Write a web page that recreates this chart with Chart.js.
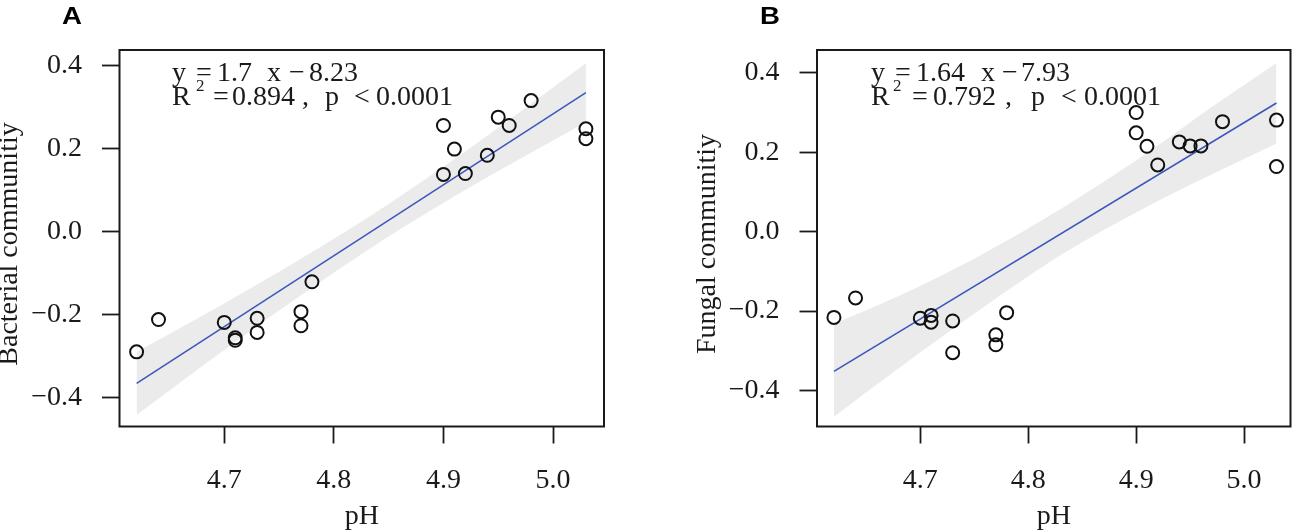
<!DOCTYPE html>
<html>
<head>
<meta charset="utf-8">
<script src="https://cdn.jsdelivr.net/npm/chart.js@4.4.0/dist/chart.umd.min.js"></script>
<style>
  html, body { margin: 0; padding: 0; background: #fff; }
  #wrap { position: relative; width: 1299px; height: 532px; overflow: hidden; }
  canvas { position: absolute; top: 0; }
</style>
</head>
<body>
<div id="wrap">
  <canvas id="chartA" width="650" height="532" style="left:0"></canvas>
  <canvas id="chartB" width="649" height="532" style="left:650px"></canvas>
</div>
<script>
// pH of the 20 samples (same for both panels)
var phValues = [4.62, 4.64, 4.70, 4.71, 4.71, 4.73, 4.73, 4.77, 4.77, 4.78,
                4.90, 4.90, 4.91, 4.92, 4.94, 4.95, 4.96, 4.98, 5.03, 5.03];

// community scores
var bacterial = [-0.290, -0.212, -0.219, -0.256, -0.262, -0.209, -0.243, -0.193, -0.227, -0.121,
                 0.256, 0.138, 0.199, 0.140, 0.184, 0.276, 0.256, 0.316, 0.248, 0.224];
var fungal = [-0.216, -0.167, -0.218, -0.211, -0.228, -0.225, -0.305, -0.260, -0.285, -0.204,
              0.300, 0.249, 0.215, 0.168, 0.226, 0.216, 0.216, 0.277, 0.281, 0.164];

// fitted line ends
var fitX = [4.62, 5.03];
var fitA = [-0.366, 0.335];
var fitB = [-0.352, 0.324];

// confidence band edges read at a few pH values
var bandX = [4.62, 4.68, 4.75, 4.83, 4.91, 4.97, 5.03];
var bandUpperA = [-0.290, -0.203, -0.097, 0.032, 0.175, 0.289, 0.406];
var bandLowerA = [-0.442, -0.324, -0.190, -0.046, 0.085, 0.176, 0.264];
var bandUpperB = [-0.232, -0.162, -0.068, 0.057, 0.198, 0.314, 0.425];
var bandLowerB = [-0.466, -0.344, -0.207, -0.059, 0.063, 0.144, 0.222];

// tick values
var xTicks = [4.7, 4.8, 4.9, 5.0];
var yTicks = [-0.4, -0.2, 0.0, 0.2, 0.4];

var SERIF = '"Liberation Serif", "Times New Roman", serif';
var INK = '#1a1a1a';

function pairs(xs, ys) {
  return xs.map(function (x, i) { return { x: x, y: ys[i] }; });
}

function fmt(v) {
  return (v < 0 ? '\u2212' : '') + Math.abs(v).toFixed(1);
}

// frame box, panel letter, y title and the regression text
var framePlugin = {
  id: 'frame',
  afterDraw: function (chart, args, opts) {
    var ctx = chart.ctx, a = chart.chartArea;
    ctx.save();
    ctx.strokeStyle = INK;
    ctx.lineWidth = 2;
    ctx.strokeRect(a.left, a.top, a.right - a.left, a.bottom - a.top);

    ctx.fillStyle = '#000';
    ctx.textBaseline = 'alphabetic';
    ctx.textAlign = 'left';
    ctx.save();
    ctx.translate(opts.letterX, 24);
    ctx.scale(1.2, 1);
    ctx.font = 'bold 23px "Liberation Sans", Arial, sans-serif';
    ctx.fillText(opts.letter, 0, 0);
    ctx.restore();

    // rotated y title
    ctx.save();
    ctx.fillStyle = INK;
    ctx.translate(opts.titleX, 244);
    ctx.rotate(-Math.PI / 2);
    ctx.textAlign = 'center';
    ctx.textBaseline = 'middle';
    ctx.font = '28px ' + SERIF;
    ctx.fillText(opts.yTitle, 0, 0);
    ctx.restore();

    var x0 = a.left + opts.textDx;
    ctx.fillStyle = INK;
    opts.tokens.forEach(function (t) {
      var size = t[3] ? 17 : 28;
      var base = t[2] === 1 ? 81 : 105;
      if (t[3]) base -= 14;
      ctx.font = size + 'px ' + SERIF;
      ctx.fillText(t[0], x0 + t[1], base);
    });
    ctx.restore();
  }
};

function makePanel(id, cfg) {
  new Chart(document.getElementById(id), {
    type: 'scatter',
    data: {
      datasets: [{
        label: 'samples',
        data: pairs(phValues, cfg.values),
        pointRadius: 6.5,
        pointHoverRadius: 6.5,
        pointBorderWidth: 2,
        borderColor: '#111',
        backgroundColor: 'rgba(0,0,0,0)'
      }, {
        type: 'line',
        label: 'fit',
        data: pairs(fitX, cfg.fit),
        borderColor: '#3a56bd',
        borderWidth: 1.5,
        pointRadius: 0,
        fill: false
      }, {
        type: 'line',
        label: 'upper',
        data: pairs(bandX, cfg.upper),
        borderWidth: 0,
        borderColor: 'rgba(0,0,0,0)',
        pointRadius: 0,
        cubicInterpolationMode: 'monotone',
        backgroundColor: '#ebebeb',
        fill: '+1'
      }, {
        type: 'line',
        label: 'lower',
        data: pairs(bandX, cfg.lower),
        borderWidth: 0,
        borderColor: 'rgba(0,0,0,0)',
        pointRadius: 0,
        cubicInterpolationMode: 'monotone',
        fill: false
      }]
    },
    options: {
      responsive: false,
      animation: false,
      events: [],
      layout: { padding: { top: 50, right: cfg.padRight, left: 0, bottom: 0 } },
      plugins: {
        legend: { display: false },
        tooltip: { enabled: false },
        frame: cfg.frame
      },
      scales: {
        x: {
          type: 'linear',
          min: cfg.xMin,
          max: cfg.xMax,
          afterBuildTicks: function (s) { s.ticks = xTicks.map(function (v) { return { value: v }; }); },
          afterFit: function (s) { s.height = 105.5; },
          grid: { drawOnChartArea: false, drawTicks: true, tickLength: 17, tickWidth: 1.8, tickColor: INK },
          border: { display: false },
          ticks: { padding: 20, color: INK, maxRotation: 0, autoSkip: false,
                   font: { family: SERIF, size: 28 }, callback: fmt },
          title: { display: true, text: 'pH', color: INK,
                   font: { family: SERIF, size: 28, lineHeight: 1 }, padding: { top: 0, bottom: 1 } }
        },
        y: {
          type: 'linear',
          min: cfg.yMin,
          max: cfg.yMax,
          afterBuildTicks: function (s) { s.ticks = yTicks.map(function (v) { return { value: v }; }); },
          afterFit: function (s) { s.width = cfg.axisWidth; },
          grid: { drawOnChartArea: false, drawTicks: true, tickLength: 17.5, tickWidth: 1.8, tickColor: INK },
          border: { display: false },
          ticks: { padding: 20, color: INK, autoSkip: false,
                   font: { family: SERIF, size: 28 }, callback: fmt }
        }
      }
    },
    plugins: [framePlugin]
  });
}

makePanel('chartA', {
  values: bacterial, fit: fitA, upper: bandUpperA, lower: bandLowerA,
  xMin: 4.6044, xMax: 5.0465, yMin: -0.470, yMax: 0.438,
  padRight: 46, axisWidth: 119.5,
  frame: {
    letter: 'A', letterX: 62, textDx: 52.5, yTitle: 'Bacterial communitiy', titleX: 10,
    tokens: [['y', 0, 1], ['=', 24, 1], ['1.7', 45, 1], ['x', 95, 1], ['\u2212', 117, 1], ['8.23', 137, 1],
             ['R', 0, 2], ['2', 24, 2, true], ['=', 41, 2], ['0.894', 60, 2], [',', 130, 2],
             ['p', 153, 2], ['<', 182, 2], ['0.0001', 204, 2]]
  }
});

makePanel('chartB', {
  values: fungal, fit: fitB, upper: bandUpperB, lower: bandLowerB,
  xMin: 4.6043, xMax: 5.043, yMin: -0.4908, yMax: 0.4575,
  padRight: 2, axisWidth: 167,
  frame: {
    letter: 'B', letterX: 110, textDx: 54, yTitle: 'Fungal communitiy', titleX: 58,
    tokens: [['y', 0, 1], ['=', 24, 1], ['1.64', 45, 1], ['x', 110, 1], ['\u2212', 131, 1], ['7.93', 150, 1],
             ['R', 0, 2], ['2', 22, 2, true], ['=', 41, 2], ['0.792', 62, 2], [',', 134, 2],
             ['p', 160, 2], ['<', 190, 2], ['0.0001', 213, 2]]
  }
});
</script>
</body>
</html>
